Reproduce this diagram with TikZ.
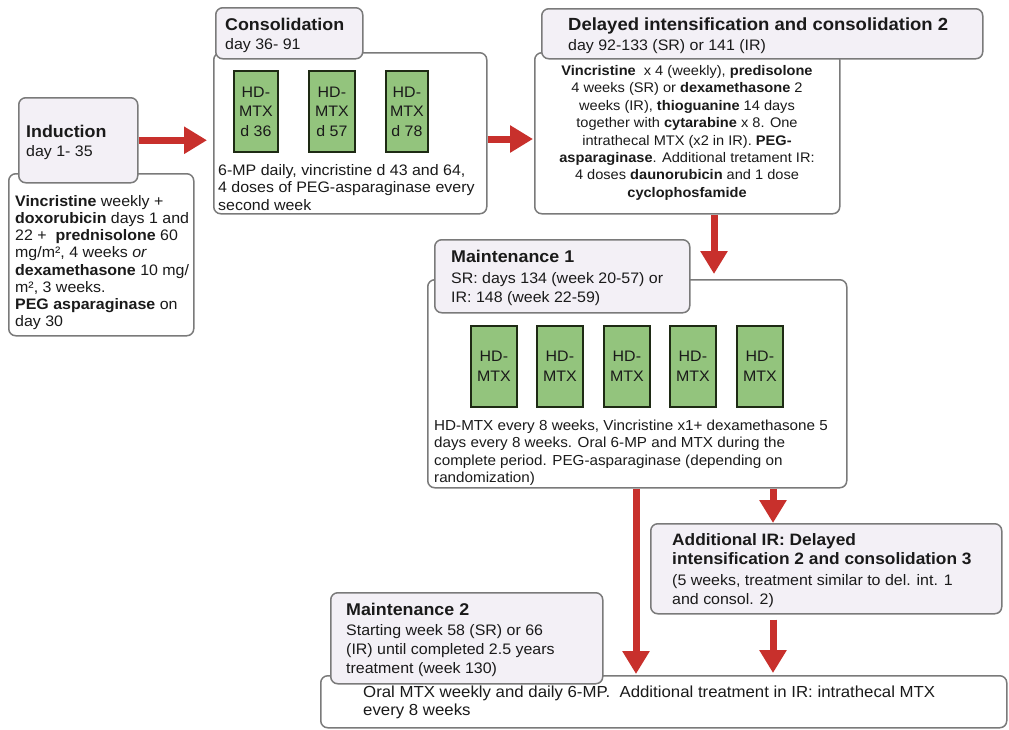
\documentclass[tikz,border=0pt]{standalone}
\usepackage{fontspec}
\setmainfont{Liberation Sans}[FakeStretch=1.05]
\usetikzlibrary{arrows.meta}
\definecolor{hdrfill}{HTML}{F3F0F6}
\definecolor{edgegray}{HTML}{7A7A7A}
\definecolor{mtxgreen}{HTML}{93C47D}
\definecolor{mtxedge}{HTML}{1E2A14}
\definecolor{flowred}{HTML}{C8302C}
\definecolor{inkc}{HTML}{1A1A1A}
\tikzset{
 box/.style={draw=edgegray, line width=1.5pt, rounded corners=7pt, fill=white, inner sep=0pt, anchor=north west},
 hdr/.style={box, fill=hdrfill},
 mtx/.style={draw=mtxedge, line width=1.8pt, fill=mtxgreen, anchor=north west, inner sep=0pt, align=center, text=inkc, font=\fontsize{15.2}{19.5}\selectfont},
 txt/.style={anchor=north west, inner sep=0pt, align=left, text=inkc, font=\fontsize{15.2}{19}\selectfont},
 ttl/.style={anchor=north west, inner sep=0pt, align=left, text=inkc, font=\fontsize{17}{19}\selectfont\bfseries},
 flow/.style={draw=flowred, line width=7pt, -{Triangle[width=26pt,length=23pt]}},
}
\begin{document}
\begin{tikzpicture}[x=1pt,y=-1pt]
\useasboundingbox (0,0) rectangle (1009,729);
\fill[white] (0,0) rectangle (1009,729);
% body boxes
\node[box, minimum width=185pt, minimum height=162pt] (indB) at (8,173) {};
\node[box, minimum width=273pt, minimum height=161pt] (consB) at (213,52) {};
\node[box, minimum width=305pt, minimum height=161pt] (delB) at (534,52) {};
\node[box, minimum width=419pt, minimum height=208pt] (m1B) at (427,279) {};
\node[hdr, minimum width=351pt, minimum height=90pt] (addB) at (650,523) {};
\node[box, minimum width=686pt, minimum height=52pt] (botB) at (320,675) {};
% header boxes
\node[hdr, minimum width=119pt, minimum height=85pt] (indH) at (18,97) {};
\node[hdr, minimum width=147pt, minimum height=51pt] (consH) at (215,7) {};
\node[hdr, minimum width=441pt, minimum height=50pt] (delH) at (541,8) {};
\node[hdr, minimum width=255pt, minimum height=73pt] (m1H) at (434,239) {};
\node[hdr, minimum width=272pt, minimum height=91pt] (m2H) at (330,592) {};
% HD-MTX boxes
\node[mtx, minimum width=44pt, minimum height=81pt] (c1) at (233,70) {HD-\\MTX\\d 36};
\node[mtx, minimum width=46pt, minimum height=81pt] (c2) at (308,70) {HD-\\MTX\\d 57};
\node[mtx, minimum width=42pt, minimum height=81pt] (c3) at (385,70) {HD-\\MTX\\d 78};
\node[mtx, minimum width=46pt, minimum height=81pt] (m1a) at (470,325) {HD-\\MTX};
\node[mtx, minimum width=46pt, minimum height=81pt] (m1b) at (536,325) {HD-\\MTX};
\node[mtx, minimum width=46pt, minimum height=81pt] (m1c) at (603,325) {HD-\\MTX};
\node[mtx, minimum width=46pt, minimum height=81pt] (m1d) at (669,325) {HD-\\MTX};
\node[mtx, minimum width=46pt, minimum height=81pt] (m1e) at (736,325) {HD-\\MTX};
% Induction
\node[ttl] (indT) at (26,124.5) {Induction};
\node[txt] (indS) at (26,145) {day 1- 35};
\node[txt, font=\fontsize{15.2}{17.2}\selectfont] (indX) at (15,195) {\textbf{Vincristine} weekly +\\
\textbf{doxorubicin} days 1 and\\
22 +\ \ \textbf{prednisolone} 60\\
mg/m², 4 weeks \textit{or}\\
\textbf{dexamethasone} 10 mg/\\
m², 3 weeks.\\
\textbf{PEG asparaginase} on\\
day 30};
% Consolidation
\node[ttl] (consT) at (225,17.5) {Consolidation};
\node[txt] (consS) at (225,38) {day 36- 91};
\node[txt, font=\fontsize{15.2}{17.5}\selectfont] (consX) at (218,164) {6-MP daily, vincristine d 43 and 64,\\
4 doses of PEG-asparaginase every\\
second week};
% Delayed intensification
\node[ttl, font=\fontsize{17.6}{19}\selectfont\bfseries] (delT) at (568,17.5) {Delayed intensification and consolidation 2};
\node[txt] (delS) at (568,39) {day 92-133 (SR) or 141 (IR)};
\node[txt, anchor=north, align=center, font=\fontsize{13.9}{17.45}\selectfont] (delX) at (687,65) {\textbf{Vincristine}\ \ x 4 (weekly), \textbf{predisolone}\\
4 weeks (SR) or \textbf{dexamethasone} 2\\
weeks (IR), \textbf{thioguanine} 14 days\\
together with \textbf{cytarabine} x 8. One\\
intrathecal MTX (x2 in IR). \textbf{PEG-}\\
\textbf{asparaginase}. Additional tretament IR:\\
4 doses \textbf{daunorubicin} and 1 dose\\
\textbf{cyclophosfamide}};
% Maintenance 1
\node[ttl] (m1T) at (451,250) {Maintenance 1};
\node[txt] (m1S) at (451,272) {SR: days 134 (week 20-57) or\\IR: 148 (week 22-59)};
\node[txt, font=\fontsize{14.5}{17.4}\selectfont] (m1X) at (434,419.5) {HD-MTX every 8 weeks, Vincristine x1+ dexamethasone 5\\
days every 8 weeks. Oral 6-MP and MTX during the\\
complete period. PEG-asparaginase (depending on\\
randomization)};
% Additional IR
\node[ttl, font=\fontsize{16.5}{19.5}\selectfont\bfseries] (addT) at (672,533) {Additional IR: Delayed\\intensification 2 and consolidation 3};
\node[txt] (addS) at (672,574) {(5 weeks, treatment similar to del. int. 1\\and consol. 2)};
% Maintenance 2
\node[ttl] (m2T) at (346,603) {Maintenance 2};
\node[txt] (m2S) at (346,624) {Starting week 58 (SR) or 66\\(IR) until completed 2.5 years\\treatment (week 130)};
\node[txt, font=\fontsize{16}{18}\selectfont] (botX) at (363,685.5) {Oral MTX weekly and daily 6-MP.\ \ Additional treatment in IR: intrathecal MTX\\every 8 weeks};
% connectors
\coordinate (x3) at (714,0);
\coordinate (x4) at (636,0);
\coordinate (x5) at (773,0);
\coordinate (yA) at (0,139);
\draw[flow, shorten >=6pt] (indH.east) -- (indH.east -| consB.west);
\draw[flow, shorten >=1pt] (consB.east |- yA) -- (delB.west |- yA);
\draw[flow, shorten >=5pt] (x3 |- delB.south) -- (x3 |- m1B.north);
\draw[flow, shorten >=1pt] (x4 |- m1B.south) -- (x4 |- botB.north);
\draw[flow] (x5 |- m1B.south) -- (x5 |- addB.north);
\draw[flow, shorten >=2pt, shorten <=5pt] (x5 |- addB.south) -- (x5 |- botB.north);
\end{tikzpicture}
\end{document}
